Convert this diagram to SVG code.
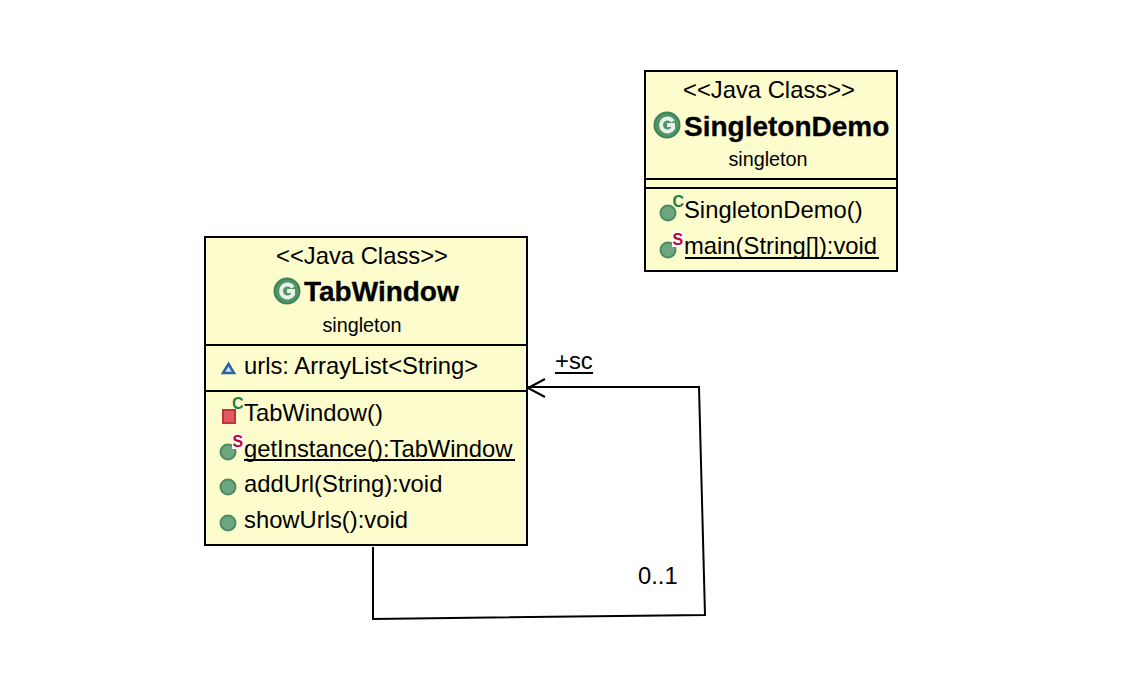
<svg xmlns="http://www.w3.org/2000/svg" width="1134" height="696" viewBox="0 0 1134 696">
<style>
text{font-family:"Liberation Sans",Arial,sans-serif;font-size:23.800px;fill:#000}
.m{text-anchor:middle}
.t{font-size:28px;font-weight:bold;stroke:#000;stroke-width:.3px}
.s{font-size:19.800px}
.box{fill:#fdfccd;stroke:#000;stroke-width:2}
.l{stroke:#000;stroke-width:2;fill:none}
.cc{fill:#4f9568;stroke:#3f8358;stroke-width:2}
.gd{fill:#6ea680;stroke:#4f8a66;stroke-width:2}
.let{font-family:"Liberation Sans",sans-serif;font-size:16px;font-weight:bold}
.g{fill:#1f7f3f}
.r{fill:#c00030}
</style>
<defs>
<g id="cls"><circle r="12.500" class="cc"/><path d="M6 -3.500A6.500 6.500 0 1 0 6 3.500V0H0" fill="none" stroke="#e8f0ea" stroke-width="4"/></g>
<circle id="dot" r="7.500" class="gd"/>
</defs>
<g id="connectors">
<path class="l" d="M373 547V619L705 615L699 387H528"/>
<path class="l" d="M545 379L528 388L545 397"/>
<text x="555" y="368.500">+sc</text>
<path class="l" d="M555 373H593"/>
<text x="638" y="584">0..1</text>
</g>
<g id="TabWindow">
<rect class="box" x="205" y="237" width="322" height="308"/>
<path class="l" d="M205 345H527M205 391H527"/>
<text class="m" x="362" y="263.500">&lt;&lt;Java Class&gt;&gt;</text>
<use href="#cls" x="287" y="291"/>
<text x="304" y="301" class="t">TabWindow</text>
<text class="m s" x="362" y="331.500">singleton</text>
<path d="M223 373L228.500 364L234 373Z" fill="#cfe0f2" stroke="#2a64a8" stroke-width="2.500"/>
<text x="244" y="373.500">urls: ArrayList&lt;String&gt;</text>
<rect x="223" y="410" width="12" height="13" fill="#e05a63" stroke="#c4303c" stroke-width="2"/>
<text x="232" y="408.500" class="let g">C</text>
<text x="244" y="420.500">TabWindow()</text>
<use href="#dot" x="228" y="452"/>
<rect x="232" y="434" width="11" height="15" fill="#fff"/>
<text x="232.500" y="447" class="let r">S</text>
<text x="244" y="456.500">getInstance():TabWindow</text>
<path class="l" d="M244 460H515"/>
<use href="#dot" x="228" y="487"/>
<text x="244" y="492">addUrl(String):void</text>
<use href="#dot" x="228" y="523"/>
<text x="244" y="528">showUrls():void</text>
</g>
<g id="SingletonDemo">
<rect class="box" x="645" y="71" width="252" height="200"/>
<path class="l" d="M645 179H897M645 188H897"/>
<text class="m" x="769" y="97.500">&lt;&lt;Java Class&gt;&gt;</text>
<use href="#cls" x="667" y="125"/>
<text x="684" y="136" class="t">SingletonDemo</text>
<text class="m s" x="768" y="165.500">singleton</text>
<use href="#dot" x="668" y="213"/>
<text x="672.500" y="207" class="let g">C</text>
<text x="684" y="218">SingletonDemo()</text>
<use href="#dot" x="668" y="250"/>
<rect x="672" y="232" width="11" height="15" fill="#fff"/>
<text x="672.500" y="245" class="let r">S</text>
<text x="684" y="254">main(String[]):void</text>
<path class="l" d="M685 258H879"/>
</g>
</svg>
